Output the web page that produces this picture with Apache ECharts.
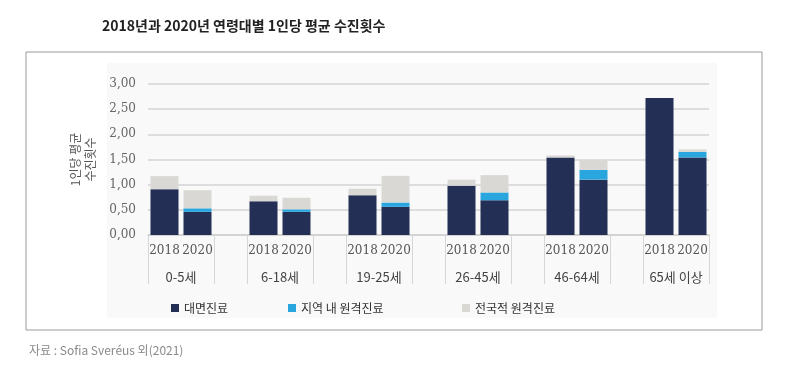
<!DOCTYPE html>
<html>
<head>
<meta charset="utf-8">
<script src="https://cdn.jsdelivr.net/npm/echarts@6/dist/echarts.min.js"></script>
<style>
html,body{margin:0;padding:0;background:#fff;}
#c{width:800px;height:373px;}
</style>
</head>
<body>
<div id="c"></div>
<script>
// ---- data ----
const groups = ['0-5세', '6-18세', '19-25세', '26-45세', '46-64세', '65세 이상'];
const years = ['2018', '2020'];
const seriesNames = ['대면진료', '지역 내 원격진료', '전국적 원격진료'];
const faceToFace2018 = [0.91, 0.67, 0.79, 0.98, 1.54, 2.72];
const faceToFace2020 = [0.46, 0.46, 0.56, 0.69, 1.10, 1.54];
const regional2018 = [0, 0, 0, 0, 0, 0];
const regional2020 = [0.07, 0.05, 0.085, 0.155, 0.195, 0.11];
const national2018 = [0.26, 0.11, 0.13, 0.12, 0.04, 0];
const national2020 = [0.36, 0.23, 0.53, 0.345, 0.195, 0.05];
const yTicks = [0, 0.5, 1, 1.5, 2, 2.5, 3];

// ---- build category layout: [2018, 2020, gap] per group ----
const cats = [];
const groupLabels = [];
function build(a2018, a2020) {
  const out = [];
  groups.forEach((g, i) => {
    out.push(a2018[i], a2020[i]);
    if (i < groups.length - 1) out.push('-');
  });
  return out;
}
groups.forEach((g, i) => {
  cats.push(years[0], years[1]);
  groupLabels.push(g, '');
  if (i < groups.length - 1) { cats.push(''); groupLabels.push(''); }
});
const dFace = build(faceToFace2018, faceToFace2020);
const dReg = build(regional2018, regional2020);
const dNat = build(national2018, national2020);

const colors = ['#232f55', '#29a6de', '#d9d8d5'];
const KR = "'Noto Sans CJK KR', sans-serif";
const SERIF = "'DejaVu Serif', serif";

const chart = echarts.init(document.getElementById('c'), null, {renderer: 'canvas'});
function legendAt(name, left) {
  return {
    data: [name], left: left, top: 297, itemWidth: 8, itemHeight: 8, icon: 'rect',
    textStyle: {fontFamily: KR, fontSize: 12, color: '#333'}, itemGap: 5
  };
}
chart.setOption({
  animation: false,
  backgroundColor: '#fff',
  color: colors,
  title: [
    {text: '2018년과 2020년 연령대별 1인당 평균 수진횟수', left: 97, top: 14,
     textStyle: {fontFamily: KR, fontSize: 14, fontWeight: 'bold', color: '#222'}},
    {text: '자료 : Sofia Sveréus 외(2021)', left: 24, top: 339,
     textStyle: {fontFamily: KR, fontSize: 12, fontWeight: 'normal', color: '#8a8a8a'}}
  ],
  graphic: {elements: [
    {type: 'rect', shape: {x: 26, y: 52, width: 736, height: 278}, z: -10,
     style: {fill: '#fff', stroke: '#9a9a9a', lineWidth: 1}},
    {type: 'rect', shape: {x: 107, y: 63, width: 610, height: 255}, z: -9,
     style: {fill: '#f9f9f9'}}
  ]},
  legend: [
    legendAt(seriesNames[0], 166),
    legendAt(seriesNames[1], 283),
    legendAt(seriesNames[2], 457)
  ],
  grid: {left: 148, right: 91, top: 84, bottom: 138},
  xAxis: [
    {type: 'category', data: cats, position: 'bottom',
     axisLine: {lineStyle: {color: '#cfcfcf', width: 1.5}},
     axisTick: {show: true, length: 49, interval: (i) => i % 3 !== 1,
                lineStyle: {color: '#d6d6d6', width: 1}},
     axisLabel: {interval: 0, margin: 10, fontFamily: SERIF, fontSize: 12, color: '#555'}},
    {type: 'category', data: groupLabels, position: 'bottom', offset: 28,
     axisLine: {show: false}, axisTick: {show: false},
     axisLabel: {interval: 0, margin: 8, fontFamily: KR, fontSize: 13, color: '#444',
                 padding: [0, 0, 0, 33]}}
  ],
  yAxis: {
    type: 'value', min: 0, max: 3, interval: 0.5,
    name: '1인당 평균\n수진횟수', nameLocation: 'middle', nameRotate: 90, nameGap: 46,
    nameTextStyle: {fontFamily: KR, fontSize: 12, color: '#555', lineHeight: 15},
    axisLine: {show: false}, axisTick: {show: false},
    axisLabel: {margin: 12, fontFamily: SERIF, fontSize: 12, color: '#666',
                formatter: (v) => yTicks.includes(v) ? v.toFixed(2).replace('.', ',') : ''},
    splitLine: {lineStyle: {color: '#d3d3d3', width: 1.5}}
  },
  series: [
    {name: seriesNames[0], type: 'bar', stack: 'total', barWidth: 28, data: dFace, xAxisIndex: 0},
    {name: seriesNames[1], type: 'bar', stack: 'total', barWidth: 28, data: dReg, xAxisIndex: 0},
    {name: seriesNames[2], type: 'bar', stack: 'total', barWidth: 28, data: dNat, xAxisIndex: 0}
  ]
});
</script>
</body>
</html>
